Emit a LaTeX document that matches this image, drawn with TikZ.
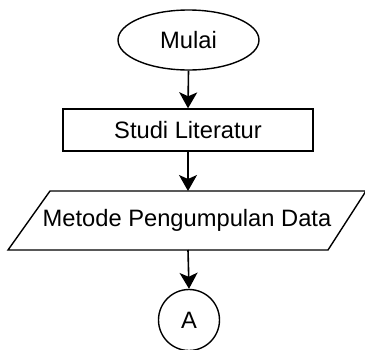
\documentclass[tikz,border=0pt]{standalone}
\usepackage{fontspec}
\setmainfont{Liberation Sans}
\usetikzlibrary{shapes.geometric,arrows.meta}
\begin{document}
\begin{tikzpicture}[x=1pt,y=1pt,
  shapeline/.style={draw=black,line width=1.4pt,fill=white},
  lbl/.style={font=\fontsize{23.7}{28}\selectfont,text=black,inner sep=0pt},
  flow/.style={line width=1.6pt,-{Stealth[length=16pt,width=18pt,inset=4pt]}}]
\useasboundingbox (0,0) rectangle (365,-349);
\node[shapeline,ellipse,minimum width=141pt,minimum height=60pt,inner sep=0pt,lbl] (mulai) at (188.5,-40) {Mulai};
\node[shapeline,rectangle,minimum width=250pt,minimum height=42pt,inner sep=0pt,lbl] (studi) at (188,-130) {Studi Literatur};
\draw[shapeline] (50,-191) -- (366,-191) -- (328,-250) -- (8,-250) -- cycle;
\node[lbl] (metode) at (187,-220.5) {Metode Pengumpulan Data};
\coordinate (mtop) at (188,-191);
\coordinate (mbot) at (188,-250);
\node[shapeline,circle,minimum size=61pt,inner sep=0pt,lbl] (a) at (189,-320) {A};
\draw[flow] (mulai.south) -- (studi.north);
\draw[flow] (studi.south) -- (mtop);
\draw[flow] (mbot) -- (a.north);
\end{tikzpicture}
\end{document}
